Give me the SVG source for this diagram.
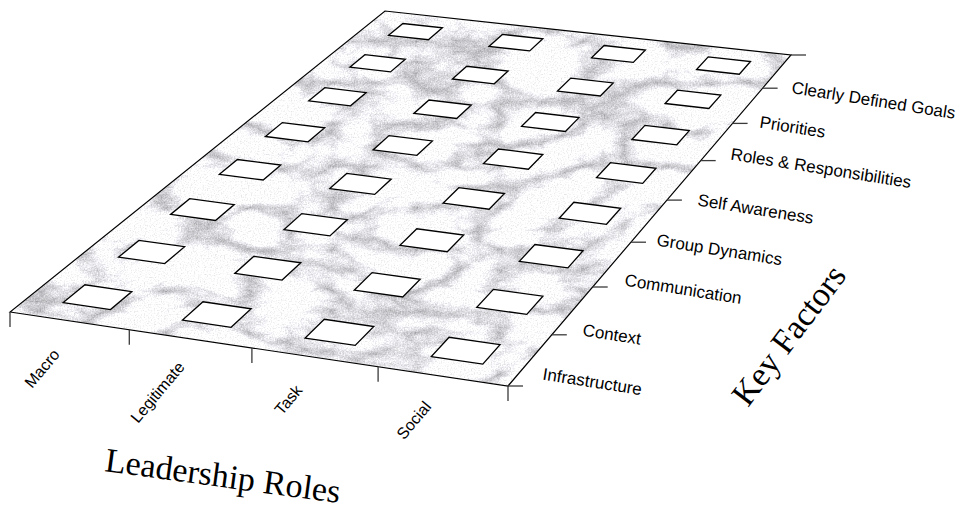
<svg xmlns="http://www.w3.org/2000/svg" width="961" height="512" viewBox="0 0 961 512">
<style>
.cell{fill:#ffffff;stroke:#000000;stroke-width:1.3;stroke-linejoin:miter}
.tick{stroke:#3a3a3a;stroke-width:1.3;fill:none}
.lbl{font-family:"Liberation Sans",Arial,sans-serif;font-size:17px;fill:#000}
.blbl{font-family:"Liberation Sans",Arial,sans-serif;font-size:16px;fill:#000}
.title{font-family:"Liberation Serif","Times New Roman",serif;font-size:34px;fill:#000}
</style>
<defs>
<filter id="marble" filterUnits="userSpaceOnUse" x="0" y="0" width="961" height="512" color-interpolation-filters="sRGB">
<feTurbulence type="turbulence" baseFrequency="0.012 0.024" numOctaves="5" seed="11" result="t"/>
<feColorMatrix in="t" type="matrix" values="0.8 0 0 0 0.70  0.8 0 0 0 0.70  0.8 0 0 0 0.715  0 0 0 0 1" result="m"/>
<feTurbulence type="fractalNoise" baseFrequency="0.7" numOctaves="2" seed="4" result="g"/>
<feColorMatrix in="g" type="matrix" values="1 0 0 0 0  1 0 0 0 0  1 0 0 0 0  0 0 0 0 1" result="g2"/>
<feComposite in="m" in2="g2" operator="arithmetic" k1="0" k2="1" k3="0.32" k4="-0.16" result="mg"/>
<feComposite in="mg" in2="SourceGraphic" operator="in"/>
</filter>
</defs>
<g id="plane">
<polygon points="10,312 508,386 791,55 385,11" fill="#dddddd" filter="url(#marble)"/>
<polygon points="10,312 508,386 791,55 385,11" fill="none" stroke="#000" stroke-width="1.2"/>
</g>
<g id="cells">
<polygon class="cell" points="63.2,302.6 110.5,309.6 131.8,291.6 84.9,284.8"/>
<polygon class="cell" points="182.5,320.1 231.1,327.3 251.1,308.8 203.0,301.8"/>
<polygon class="cell" points="305.1,338.1 355.2,345.4 373.8,326.5 324.3,319.3"/>
<polygon class="cell" points="431.3,356.6 482.8,364.1 500.0,344.6 449.1,337.3"/>
<polygon class="cell" points="118.6,257.1 164.7,263.6 184.6,246.7 138.9,240.4"/>
<polygon class="cell" points="234.8,273.4 282.1,280.1 300.8,262.8 253.9,256.3"/>
<polygon class="cell" points="354.1,290.2 402.8,297.0 420.2,279.3 372.1,272.6"/>
<polygon class="cell" points="476.8,307.4 526.8,314.4 542.9,296.2 493.4,289.4"/>
<polygon class="cell" points="170.6,214.4 215.5,220.5 234.2,204.6 189.7,198.7"/>
<polygon class="cell" points="283.8,229.7 329.9,235.9 347.4,219.6 301.8,213.6"/>
<polygon class="cell" points="400.0,245.3 447.3,251.7 463.7,235.0 416.8,228.8"/>
<polygon class="cell" points="519.3,261.4 567.9,267.9 583.0,250.8 534.9,244.5"/>
<polygon class="cell" points="219.4,174.3 263.2,180.0 280.8,165.0 237.4,159.5"/>
<polygon class="cell" points="329.8,188.6 374.7,194.4 391.2,179.1 346.7,173.4"/>
<polygon class="cell" points="443.0,203.2 489.1,209.2 504.5,193.5 458.8,187.7"/>
<polygon class="cell" points="559.2,218.2 606.5,224.3 620.7,208.3 573.8,202.3"/>
<polygon class="cell" points="265.4,136.5 308.1,141.8 324.7,127.8 282.3,122.6"/>
<polygon class="cell" points="373.1,149.9 416.9,155.3 432.4,140.9 389.0,135.6"/>
<polygon class="cell" points="483.5,163.6 528.4,169.2 542.8,154.5 498.4,149.0"/>
<polygon class="cell" points="596.6,177.6 642.7,183.4 656.0,168.3 610.4,162.7"/>
<polygon class="cell" points="308.8,100.8 350.5,105.8 366.2,92.6 324.8,87.7"/>
<polygon class="cell" points="413.9,113.4 456.7,118.5 471.3,105.0 429.0,100.0"/>
<polygon class="cell" points="521.6,126.3 565.4,131.5 579.0,117.6 535.6,112.5"/>
<polygon class="cell" points="631.9,139.5 676.8,144.8 689.3,130.6 644.9,125.4"/>
<polygon class="cell" points="349.8,67.2 390.5,71.9 405.3,59.3 364.9,54.7"/>
<polygon class="cell" points="452.4,79.0 494.2,83.8 508.1,71.0 466.7,66.3"/>
<polygon class="cell" points="557.5,91.1 600.3,96.0 613.2,82.9 570.8,78.1"/>
<polygon class="cell" points="665.1,103.5 708.9,108.5 720.8,95.1 677.4,90.2"/>
<polygon class="cell" points="388.6,35.3 428.4,39.7 442.4,27.8 402.9,23.5"/>
<polygon class="cell" points="488.9,46.4 529.7,50.9 542.8,38.8 502.4,34.4"/>
<polygon class="cell" points="591.5,57.8 633.3,62.4 645.4,50.0 604.1,45.5"/>
<polygon class="cell" points="696.6,69.5 739.3,74.2 750.5,61.5 708.2,56.9"/>
</g>
<g id="axes">
<line class="tick" x1="10" y1="312" x2="10" y2="327"/>
<line class="tick" x1="129.3" y1="329.7" x2="129.3" y2="344.7"/>
<line class="tick" x1="251.9" y1="347.9" x2="251.9" y2="362.9"/>
<line class="tick" x1="378.1" y1="366.7" x2="378.1" y2="381.7"/>
<line class="tick" x1="508" y1="386" x2="508" y2="401"/>
<line class="tick" x1="508" y1="386" x2="523" y2="386"/>
<line class="tick" x1="551.8" y1="334.8" x2="566.8" y2="334.8"/>
<line class="tick" x1="592.7" y1="287" x2="607.7" y2="287"/>
<line class="tick" x1="631" y1="242.2" x2="646" y2="242.2"/>
<line class="tick" x1="666.9" y1="200.1" x2="681.9" y2="200.1"/>
<line class="tick" x1="700.7" y1="160.6" x2="715.7" y2="160.6"/>
<line class="tick" x1="732.6" y1="123.4" x2="747.6" y2="123.4"/>
<line class="tick" x1="762.6" y1="88.2" x2="777.6" y2="88.2"/>
<line class="tick" x1="791" y1="55" x2="806" y2="55"/>
</g>
<g id="key-factor-labels">
<text class="lbl" x="791" y="93" transform="rotate(9 791 93)">Clearly Defined Goals</text>
<text class="lbl" x="759" y="127.5" transform="rotate(9 759 127.5)">Priorities</text>
<text class="lbl" x="730" y="159.5" transform="rotate(9 730 159.5)">Roles &amp; Responsibilities</text>
<text class="lbl" x="697" y="205.5" transform="rotate(9 697 205.5)">Self Awareness</text>
<text class="lbl" x="656" y="245.5" transform="rotate(9 656 245.5)">Group Dynamics</text>
<text class="lbl" x="624" y="285.5" transform="rotate(9 624 285.5)">Communication</text>
<text class="lbl" x="582" y="335.5" transform="rotate(9 582 335.5)">Context</text>
<text class="lbl" x="542" y="379.5" transform="rotate(9 542 379.5)">Infrastructure</text>
</g>
<g id="role-labels">
<text class="blbl" x="32" y="389" transform="rotate(-50 32 389)">Macro</text>
<text class="blbl" x="138" y="424" transform="rotate(-50 138 424)">Legitimate</text>
<text class="blbl" x="282" y="416" transform="rotate(-50 282 416)">Task</text>
<text class="blbl" x="404" y="440.5" transform="rotate(-50 404 440.5)">Social</text>
</g>
<g id="titles">
<text class="title" x="104" y="471" transform="rotate(7.8 104 471)">Leadership Roles</text>
<text class="title" x="748" y="408" transform="rotate(-53 748 408)">Key Factors</text>
</g>
</svg>
